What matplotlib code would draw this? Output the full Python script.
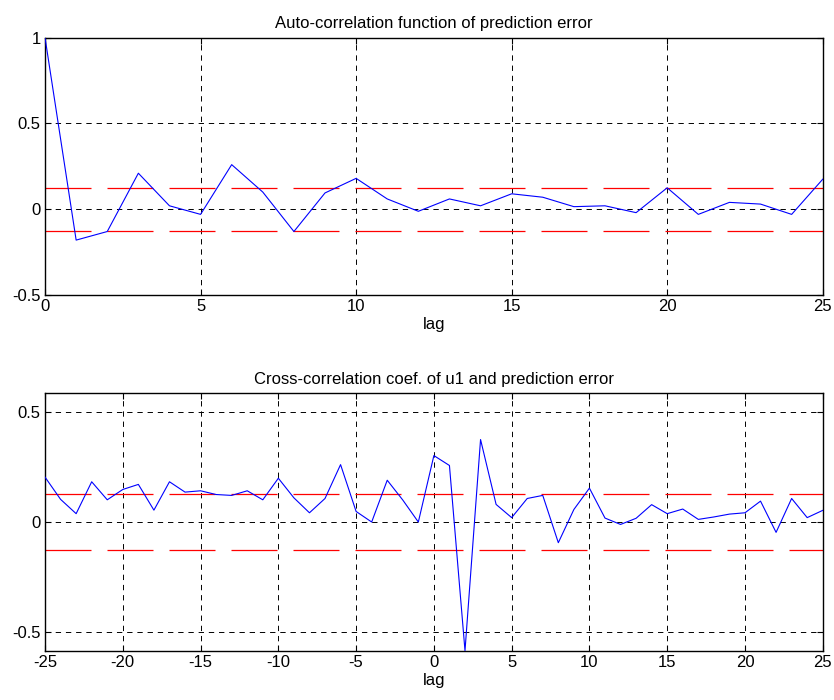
import numpy as np
import matplotlib
matplotlib.use("Agg")
import matplotlib.pyplot as plt

plt.rcParams['font.family'] = ['Liberation Sans', 'DejaVu Sans']
plt.rcParams['axes.unicode_minus'] = False

# 自相關 (lag 0..25)
acf_lags = list(range(0, 26))
acf_vals = [1.0, -0.18, -0.13, 0.21, 0.02, -0.03, 0.26, 0.10, -0.13, 0.095,
            0.18, 0.06, -0.012, 0.06, 0.02, 0.09, 0.07, 0.015, 0.02, -0.02,
            0.125, -0.03, 0.04, 0.03, -0.03, 0.175]

# 互相關 (lag -25..25)
ccf_lags = list(range(-25, 26))
ccf_vals = [0.204, 0.103, 0.038, 0.183, 0.101, 0.148, 0.171, 0.054, 0.183, 0.136,
            0.142, 0.125, 0.121, 0.142, 0.101, 0.199, 0.11, 0.042, 0.107, 0.261,
            0.048, 0.0, 0.19, 0.1, 0.0, 0.302, 0.257, -0.585, 0.375, 0.08,
            0.02, 0.107, 0.121, -0.094, 0.057, 0.154, 0.018, -0.011, 0.017, 0.079,
            0.038, 0.059, 0.012, 0.023, 0.036, 0.042, 0.095, -0.047, 0.107, 0.02,
            0.053]

conf_acf = 0.125
conf_ccf = 0.127

acf_xticks = [0, 5, 10, 15, 20, 25]
acf_yticks = [-0.5, 0, 0.5, 1]
ccf_xticks = [-25, -20, -15, -10, -5, 0, 5, 10, 15, 20, 25]
ccf_yticks = [-0.5, 0, 0.5]

fig = plt.figure(figsize=(8.34, 7.0), dpi=100)
ax1 = fig.add_axes([0.054, 0.5786, 0.9325, 0.3675])
ax2 = fig.add_axes([0.054, 0.0704, 0.9325, 0.3677])

# 紅色虛線 (dash 長度會乘上線寬)
red_dash = (0, (36.8, 12.8))


def fmt(v):
    if v == 0:
        return '0'
    if float(v).is_integer():
        return str(int(v))
    return str(v)


def style_axes(ax, xticks, yticks):
    ax.set_xticks(xticks)
    ax.set_xticklabels([fmt(v) for v in xticks])
    ax.set_yticks(yticks)
    ax.set_yticklabels([fmt(v) for v in yticks])
    ax.tick_params(direction='in', length=4, width=0.8, top=True, right=True,
                   labelsize=12, pad=3, color='black')
    ax.grid(True, color='black', linestyle=(0, (5.5, 5)), linewidth=0.7)
    for s in ax.spines.values():
        s.set_linewidth(1.0)
    ax.set_xlabel('lag', fontsize=12, labelpad=2)


# 上圖
ax1.plot(acf_lags, acf_vals, color='blue', linewidth=0.8, zorder=3)
ax1.axhline(conf_acf, color='red', linestyle=red_dash, linewidth=0.9, zorder=2)
ax1.axhline(-conf_acf, color='red', linestyle=red_dash, linewidth=0.9, zorder=2)
ax1.set_xlim(0, 25)
ax1.set_ylim(-0.5, 1)
style_axes(ax1, acf_xticks, acf_yticks)
ax1.set_title('Auto-correlation function of prediction error', fontsize=12, pad=7)

# 下圖
ax2.plot(ccf_lags, ccf_vals, color='blue', linewidth=0.8, zorder=3)
ax2.axhline(conf_ccf, color='red', linestyle=red_dash, linewidth=0.9, zorder=2)
ax2.axhline(-conf_ccf, color='red', linestyle=red_dash, linewidth=0.9, zorder=2)
ax2.set_xlim(-25, 25)
ax2.set_ylim(-0.585, 0.585)
style_axes(ax2, ccf_xticks, ccf_yticks)
ax2.set_title('Cross-correlation coef. of u1 and prediction error', fontsize=12, pad=7)

fig.savefig('out.png', dpi=100)
